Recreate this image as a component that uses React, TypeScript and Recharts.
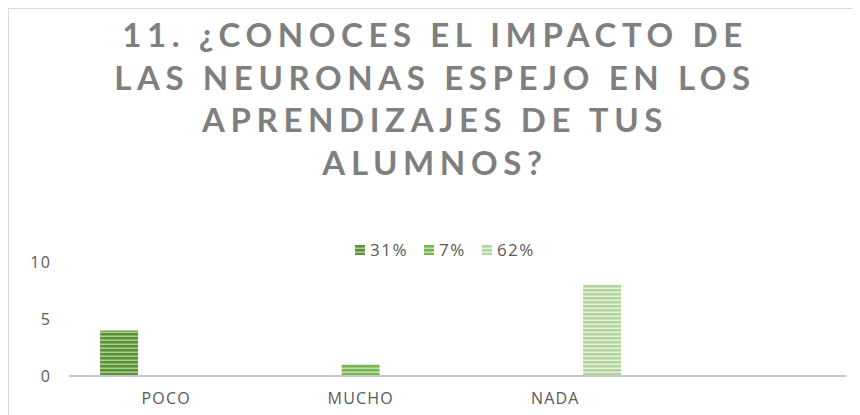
import { BarChart, Bar, XAxis, YAxis, Legend } from 'recharts';

const categories = ['POCO', 'MUCHO', 'NADA', ''];
const seriesNames = ['31%', '7%', '62%'];
const serie31 = [4, null, null, null];
const serie7 = [null, 1, null, null];
const serie62 = [null, null, 8, null];
const yTicks = [0, 5, 10];
const titleLines = [
  '11. ¿CONOCES EL IMPACTO DE',
  'LAS NEURONAS ESPEJO EN LOS',
  'APRENDIZAJES DE TUS',
  'ALUMNOS?',
];

const data = categories.map((name, i) => ({
  name,
  s1: serie31[i],
  s2: serie7[i],
  s3: serie62[i],
}));

// base / stripe colours for each series pattern
const patterns = [
  { id: 'pat1', base: '#5b9138', stripe: '#a9cf8c' },
  { id: 'pat2', base: '#77b551', stripe: '#c4e2ae' },
  { id: 'pat3', base: '#b3d49c', stripe: '#e6f1dd' },
];

const font = '"Open Sans", sans-serif';
const tickStyle = { fill: '#595959', fontSize: 16, fontFamily: font, letterSpacing: 1.2 };

function PatternDefs() {
  return (
    <defs>
      {patterns.map((p) => (
        <pattern key={p.id} id={p.id} width="6" height="4" patternUnits="userSpaceOnUse">
          <rect width="6" height="4" fill={p.base} />
          <rect y="2.5" width="6" height="1.5" fill={p.stripe} />
        </pattern>
      ))}
    </defs>
  );
}

function LegendContent() {
  return (
    <div
      style={{
        display: 'flex',
        justifyContent: 'center',
        gap: 16,
        fontFamily: font,
        fontSize: 17,
        letterSpacing: 1.5,
        color: '#595959',
        paddingLeft: 20,
      }}
    >
      {seriesNames.map((n, i) => (
        <span key={n} style={{ display: 'flex', alignItems: 'center', gap: 5 }}>
          <svg width="10" height="10">
            <rect width="10" height="10" fill={`url(#${patterns[i].id})`} />
          </svg>
          {n}
        </span>
      ))}
    </div>
  );
}

export default function App() {
  const W = 852;
  const H = 407;
  return (
    <div
      style={{
        position: 'relative',
        width: W,
        height: H,
        background: '#fff',
        borderTop: '1.5px solid #d9d9d9',
        borderLeft: '1.5px solid #d9d9d9',
        boxSizing: 'border-box',
      }}
    >
      <div
        style={{
          position: 'absolute',
          top: 4,
          left: 0,
          width: W,
          textAlign: 'center',
          fontFamily: 'Lato, sans-serif',
          fontWeight: 700,
          fontSize: 33,
          lineHeight: '42.5px',
          letterSpacing: 5.6,
          color: '#7f7f7f',
        }}
      >
        {titleLines.map((t) => (
          <div key={t}>{t}</div>
        ))}
      </div>
      <BarChart
        width={W - 2}
        height={H - 2}
        data={data}
        margin={{ top: 230, right: 12, bottom: 6, left: 0 }}
        barCategoryGap="16%"
        barGap={9}
        style={{ position: 'absolute', top: 0, left: 0 }}
      >
        <PatternDefs />
        <XAxis
          dataKey="name"
          axisLine={{ stroke: '#c8c8c8', strokeWidth: 2 }}
          tickLine={false}
          tick={tickStyle}
          tickMargin={11}
          height={32}
        />
        <YAxis
          domain={[0, 10]}
          ticks={yTicks}
          axisLine={false}
          tickLine={false}
          tickSize={0}
          tickMargin={18}
          width={60}
          tick={tickStyle}
        />
        <Legend
          verticalAlign="top"
          content={<LegendContent />}
          wrapperStyle={{ top: 229, left: 0, width: W }}
        />
        <Bar dataKey="s1" name={seriesNames[0]} fill="url(#pat1)" isAnimationActive={false} />
        <Bar dataKey="s2" name={seriesNames[1]} fill="url(#pat2)" isAnimationActive={false} />
        <Bar dataKey="s3" name={seriesNames[2]} fill="url(#pat3)" isAnimationActive={false} />
      </BarChart>
    </div>
  );
}
